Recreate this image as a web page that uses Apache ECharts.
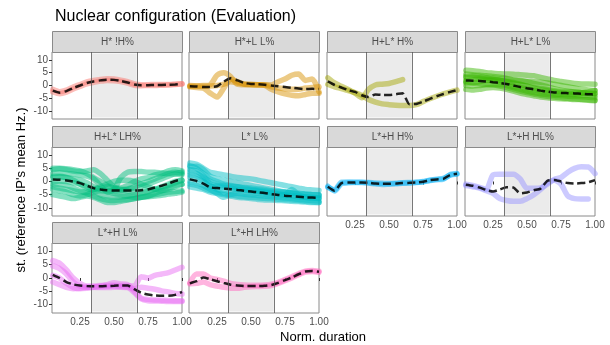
<!DOCTYPE html>
<html>
<head>
<meta charset="utf-8">
<script src="https://cdn.jsdelivr.net/npm/echarts@6/dist/echarts.min.js"></script>
<style>
  html, body { margin: 0; padding: 0; background: #fff; }
  #chart { width: 610px; height: 345px; }
</style>
</head>
<body>
<div id="chart"></div>
<script>
// normalised time points shared by every contour
const X = [0.05,0.1,0.15,0.2,0.25,0.3,0.35,0.4,0.45,0.5,0.55,0.6,0.65,0.7,0.75,0.8,0.85,0.9,0.95,1.0];

const facetNames = ['H* !H%', 'H*+L L%', 'H+L* H%', 'H+L* L%', 'H+L* LH%', 'L* L%', 'L*+H H%', 'L*+H HL%', 'L*+H L%', 'L*+H LH%'];
const facetColors = ['#F8766D', '#D89000', '#A3A500', '#39B600', '#00BF7D', '#00BFC4', '#00B0F6', '#9590FF', '#E76BF3', '#FF62BC'];

const xTicks = [0.25, 0.5, 0.75, 1.0];
const yTicks = [-10, -5, 0, 5, 10];

// H* !H%
const p1Mean = [-2,-2.8,-2.2,-1,0,1,1.6,2,2.3,2.2,1.8,1.2,0.4,0.1,0.1,0.2,0.2,0.3,0.4,0.6];
const p1Lines = [
  [-1.5,-2.4,-1.8,-0.6,0.4,1.4,2.0,2.4,2.6,2.5,2.1,1.5,0.6,0.3,0.3,0.4,0.4,0.4,0.5,0.6],
  [-2.5,-3.2,-2.6,-1.4,-0.4,0.6,1.2,1.7,2.0,1.9,1.5,0.9,0.1,-0.1,0,0,0.1,0.2,0.4,0.7]
];
// H*+L L%
const p2Mean = [-0.3,-0.4,-0.6,-0.6,-0.3,1.5,2.8,2.0,1.0,0.6,0.5,0.3,0,-0.3,-0.6,-0.9,-1.2,-1.4,-1.3,-1.4];
const p2Lines = [
  [-0.3,-0.2,0,0.3,4.0,5.0,3.5,0.5,0.3,0.3,0.3,0.3,0.2,1.5,2.5,4.0,4.5,2.0,2.5,-2.5],
  [-0.5,-0.8,-1.0,-3.0,-4.5,-1.0,2.5,1.5,0.6,0.5,0.3,0,-1.5,-2.5,-3.3,-3.8,-4.0,-3.5,-3.0,-3.0],
  [0,-0.2,-0.3,-0.2,0,0.5,1.5,1.0,0.5,0.3,0.2,0.2,-0.5,-1.0,-1.3,-1.5,-1.5,-1.0,-0.8,-0.5]
];
// H+L* H%
const p3Mean = [1.6,0.2,-0.8,-1.8,-2.5,-3.8,-4.5,-3.5,-3.7,-3.7,-3.4,-3.0,-7.3,-7.2,-6.3,-5.2,-4.2,-3.3,-2.5,-1.8];
const p3Lines = [
  [3.0,1.0,-0.3,-1.5,-3.0,-4.8,-1.5,0.2,0.5,0.8,1.5,2.3,null,null,null,null,null,null,null,null],
  [0.5,-0.5,-1.2,-2.0,-2.8,-3.8,-5.5,-6.5,-7.2,-7.5,-7.7,-7.8,-7.8,-7.5,-6.3,-5.2,-4.2,-3.3,-2.5,-1.8]
];
// H+L* L%
const p4Mean = [2.0,1.9,1.8,1.6,1.3,1.0,0.6,0,-0.6,-1.1,-1.5,-2.0,-2.4,-2.7,-2.9,-3.0,-3.1,-3.2,-3.4,-3.5];
const p4Lines = [
  [6.0,5.8,5.5,5.0,4.8,4.6,4.5,4.4,4.2,4.0,3.8,3.2,2.6,2.0,1.6,1.2,0.8,0.6,0.6,0.5],
  [4.5,4.2,4.0,3.8,3.5,3.2,2.8,2.2,1.8,1.6,1.5,1.3,1.0,0.5,0,-0.5,-1.0,-1.5,-1.8,-2.0],
  [3.0,3.2,3.0,2.8,2.5,2.0,1.5,0.8,0.2,-0.3,-0.8,-1.2,-1.6,-2.0,-2.3,-2.5,-2.6,-2.8,-3.0,-3.0],
  [2.0,2.2,2.5,2.3,1.8,1.2,0.5,-0.2,-0.8,-1.4,-1.8,-2.3,-2.8,-3.2,-3.4,-3.5,-3.6,-3.7,-3.8,-4.0],
  [1.0,1.2,0.8,0.5,0.5,0.3,0,-0.8,-1.5,-2.2,-2.8,-3.2,-3.5,-3.8,-4.0,-4.2,-4.3,-4.4,-4.6,-4.8],
  [0,-0.2,0,0.3,0.2,-0.2,-0.8,-1.5,-2.2,-2.8,-3.3,-3.8,-4.2,-4.5,-4.8,-5.0,-5.2,-5.5,-5.8,-6.0],
  [-1.5,-1.8,-1.5,-1.0,-0.8,-1.0,-1.5,-2.2,-3.0,-3.5,-4.0,-4.5,-4.8,-5.0,-5.2,-5.3,-5.5,-5.5,-5.6,-5.8],
  [3.5,3.8,3.5,3.0,2.8,2.6,2.5,2.2,2.0,1.5,0.8,0.2,-0.5,-1.2,-1.8,-2.2,-2.5,-2.8,-3.0,-3.2],
  [1.5,1.0,1.5,2.0,2.2,2.0,1.6,1.2,0.5,-0.3,-1.0,-1.6,-2.0,-2.5,-2.8,-3.0,-3.3,-3.0,-2.5,-2.0]
];
// H+L* LH%
const p5Mean = [0.8,0.7,0.4,0,-0.6,-1.6,-2.5,-3.0,-3.3,-3.4,-3.4,-3.4,-3.4,-3.3,-3.0,-2.3,-1.6,-0.8,0.2,0.8];
const p5Lines = [
  [4.5,4.8,4.5,4.0,3.8,4.0,4.5,3.0,0.5,-2.0,-2.5,-1.5,0,1.0,1.5,2.5,3.0,4.0,4.5,4.0],
  [3.0,3.2,3.0,2.8,2.5,2.0,1.0,-1.5,-4.0,-3.0,1.5,3.5,3.8,3.8,3.5,3.5,3.2,3.0,2.8,2.5],
  [1.5,1.8,1.5,1.0,0.5,-0.5,-2.0,-3.0,-3.5,-3.8,-3.5,-3.0,-2.5,-2.0,-1.0,0,1.0,2.0,3.0,3.5],
  [0,0.2,0,-0.5,-1.0,-2.0,-3.5,-5.0,-5.8,-6.0,-5.8,-5.5,-5.0,-4.5,-3.8,-3.0,-2.0,-1.0,0,0.5],
  [-1.0,-1.2,-1.5,-2.5,-3.5,-4.5,-5.5,-6.5,-7.0,-7.2,-7.0,-6.8,-6.5,-6.0,-5.5,-5.0,-4.5,-4.0,-3.8,-3.5],
  [-3.0,-3.5,-4.0,-5.0,-5.5,-5.0,-4.0,-3.5,-3.8,-4.5,-5.0,-5.5,-6.0,-6.0,-5.8,-5.5,-5.2,-4.8,-4.5,-4.0],
  [2.0,2.0,1.5,0.5,-1.0,-2.5,-3.0,-2.5,-2.0,-2.5,-3.0,-3.5,-4.0,-4.0,-3.5,-3.0,-2.5,-1.5,-0.5,0.5],
  [-2.0,-2.5,-3.0,-3.5,-4.0,-4.0,-3.0,-2.0,-1.0,0,0.5,0.5,0,-1.0,-2.0,-3.0,-3.5,-3.0,-2.0,-1.0],
  [5.0,5.0,4.8,4.5,4.0,3.0,1.5,0,-1.5,-2.5,-3.0,-2.8,-2.0,-1.0,0,1.0,2.0,3.0,3.5,3.0],
  [-5.0,-5.5,-6.0,-6.5,-6.0,-5.5,-6.0,-7.0,-8.0,-8.0,-7.5,-7.0,-6.5,-6.0,-5.5,-4.5,-3.5,-2.5,-1.5,-1.0]
];
// L* L%
const p6Mean = [0.8,0.2,-0.8,-2.2,-2.5,-2.7,-2.9,-3.2,-3.5,-3.8,-4.1,-4.4,-4.8,-5.1,-5.4,-5.6,-5.8,-6.0,-6.1,-6.2];
const p6Lines = [
  [7.0,6.5,5.0,3.5,3.0,2.5,2.0,1.5,1.2,1.0,0.5,0,-0.5,-1.0,-1.5,-2.0,-2.5,-3.0,-3.2,-3.4],
  [5.5,5.8,4.5,2.0,1.0,0.5,0,-0.5,-1.0,-1.5,-2.0,-2.5,-3.0,-3.5,-4.0,-4.5,-4.8,-5.0,-5.2,-5.3],
  [3.5,3.0,1.5,0,-1.0,-1.5,-2.0,-2.5,-3.0,-3.3,-3.6,-4.0,-4.3,-4.6,-5.0,-5.3,-5.6,-5.8,-6.0,-6.2],
  [1.5,1.0,0,-1.5,-3.0,-3.5,-3.5,-3.8,-4.0,-4.3,-4.5,-4.8,-5.0,-5.3,-5.0,-3.0,-5.0,-6.0,-6.2,-6.4],
  [0,-0.5,-1.5,-3.0,-4.5,-6.0,-5.0,-4.5,-4.8,-5.0,-5.3,-5.5,-5.8,-6.0,-6.3,-6.5,-6.8,-7.0,-7.2,-7.4],
  [-1.0,-1.5,-2.5,-3.5,-4.0,-4.5,-5.0,-5.5,-5.8,-6.0,-6.2,-6.4,-6.5,-6.7,-6.9,-7.0,-7.2,-7.5,-7.8,-8.0],
  [2.5,2.0,0.5,-2.0,-2.0,-2.2,-2.5,-3.0,-3.2,-3.5,-3.8,-4.2,-4.5,-4.8,-5.2,-5.5,-5.8,-6.0,-6.3,-6.5],
  [4.5,4.0,2.0,-1.0,-1.5,-1.5,-1.8,-2.0,-2.3,-2.5,-2.8,-3.0,-3.5,-3.8,-4.0,-4.3,-4.5,-4.8,-5.0,-5.2],
  [-2.0,-2.5,-3.0,-4.0,-4.5,-5.0,-5.5,-6.0,-6.2,-6.5,-6.8,-7.0,-7.0,-7.2,-7.3,-7.5,-7.6,-7.8,-8.0,-8.0],
  [6.0,5.0,3.0,1.0,0,-1.0,-1.5,-2.0,-2.5,-3.0,-3.2,-3.5,-3.8,-4.0,-4.2,-4.4,-4.6,-4.8,-5.0,-5.0]
];
// L*+H H%
const p7Mean = [-2.0,-3.5,-0.6,-0.4,-0.4,-0.4,-0.5,-0.8,-0.9,-0.9,-0.8,-0.6,-0.5,-0.4,-0.1,0.5,0.8,1.0,2.5,2.9];
const p7Lines = [
  [-2.2,-3.2,-0.3,-0.2,-0.3,-0.4,-0.6,-0.9,-1.1,-1.0,-0.9,-0.7,-0.6,-0.4,0,0.5,0.9,1.2,2.4,2.8],
  [-1.8,-3.6,-0.8,-0.5,-0.4,-0.3,-0.4,-0.6,-0.7,-0.8,-0.7,-0.5,-0.4,-0.3,-0.2,0.4,0.7,0.9,2.6,3.0]
];
// L*+H HL%
const p8Mean = [-1.2,-1.6,-2.3,-3.2,-3.8,-3.0,-2.2,-2.3,-4.5,-4.2,-3.3,-2.7,0.3,0.6,0,-0.6,-0.8,-0.6,-0.3,0.5];
const p8Lines = [
  [-1.0,-1.5,-2.2,-3.0,2.5,2.8,2.8,2.8,1.0,-2.6,-2.6,-2.5,-1.0,0.8,1.5,3.5,5.0,5.6,5.5,3.0],
  [-1.5,-2.0,-2.5,-3.5,-4.5,-6.5,-7.2,-7.5,-7.5,-6.5,-5.0,-3.0,-0.5,0.5,-1.0,-5.5,-6.5,-6.6,-6.6,null]
];
// L*+H L%
const p9Mean = [1.2,0,-1.5,-2.4,-2.8,-3.0,-3.1,-3.1,-3.0,-2.9,-2.8,-2.8,-4.2,-5.5,-6.2,-6.5,-6.6,-6.6,-6.3,-5.2];
const p9Lines = [
  [6.5,5.5,3.0,0,-2.0,-3.0,-3.0,-2.8,-2.8,-2.7,-2.8,-2.9,-3.0,0.5,0,1.0,1.5,2.0,3.0,4.0],
  [4.5,3.5,1.5,-1.5,-3.0,-3.5,-3.4,-3.3,-3.2,-3.0,-3.2,-3.5,-4.0,-3.5,-3.8,-4.2,-4.8,-5.2,-5.8,-6.0],
  [1.0,0,-2.0,-3.5,-4.0,-3.8,-3.5,-3.0,-2.5,-1.8,-2.2,-2.5,-5.0,-7.5,-8.0,-8.2,-8.3,-8.4,-8.5,-8.5],
  [-1.5,-2.5,-3.5,-4.0,-3.8,-3.5,-3.5,-3.6,-3.6,-3.5,-3.5,-3.6,-5.5,-7.8,-8.5,-8.6,-8.7,-8.8,-8.8,-8.8]
];
// L*+H LH%
const p10Mean = [-2.0,-1.2,0.2,-0.5,-1.2,-1.9,-2.5,-2.8,-3.0,-3.0,-3.0,-2.9,-2.6,-1.8,-0.8,0.2,1.4,2.4,2.6,2.3];
const p10Lines = [
  [-1.8,1.5,1.5,0,-0.5,-1.2,-2.0,-2.4,-2.6,-2.7,-2.7,-2.6,-2.3,-1.6,-0.6,0.5,1.6,2.6,2.8,2.5],
  [-2.2,-2.0,-1.5,-2.5,-3.0,-3.5,-3.8,-3.8,-3.5,-3.3,-3.2,-3.1,-2.8,-2.0,-1.0,0,1.2,2.2,2.4,2.1]
];

const facetMeans = [p1Mean, p2Mean, p3Mean, p4Mean, p5Mean, p6Mean, p7Mean, p8Mean, p9Mean, p10Mean];
const facetLines = [p1Lines, p2Lines, p3Lines, p4Lines, p5Lines, p6Lines, p7Lines, p8Lines, p9Lines, p10Lines];

// panel layout (px)
const colLeft = [52, 189, 327, 465];
const rowTop = [52, 147, 243];
const rowHeight = [67, 69, 70];
const panelW = 130;
const stripH = 21;

const withX = ys => X.map((x, i) => [x, ys[i]]);

let chart = echarts.init(document.getElementById('chart'), null, {renderer: 'canvas'});

let grids = [], xAxes = [], yAxes = [], series = [], graphics = [];
facetNames.forEach(function (name, k) {
  let r = Math.floor(k / 4), c = k % 4;
  let left = colLeft[c], top = rowTop[r], h = rowHeight[r];
  let showX = k >= 6;
  let showY = c === 0;
  grids.push({left: left, top: top, width: panelW, height: h, show: true,
    borderColor: '#8a8a8a', borderWidth: 1, backgroundColor: '#fff'});
  xAxes.push({
    type: 'value', gridIndex: k, min: 0.044, max: 1.0,
    axisLine: {show: false}, splitLine: {show: false},
    axisTick: {show: showX, length: 3, lineStyle: {color: '#333'}, customValues: xTicks},
    axisLabel: {show: showX, customValues: xTicks, color: '#4d4d4d', fontSize: 10,
      fontFamily: 'Liberation Sans', margin: 4, formatter: v => v.toFixed(2)}
  });
  yAxes.push({
    type: 'value', gridIndex: k, min: -13.1, max: 13.1,
    axisLine: {show: false}, splitLine: {show: false},
    axisTick: {show: showY, length: 3, lineStyle: {color: '#333'}, customValues: yTicks},
    axisLabel: {show: showY, customValues: yTicks, color: '#4d4d4d', fontSize: 10,
      fontFamily: 'Liberation Sans', margin: 4}
  });
  // shaded middle third + boundaries
  series.push({
    type: 'line', xAxisIndex: k, yAxisIndex: k, data: [], z: 1, silent: true,
    markArea: {silent: true, itemStyle: {color: '#ebebeb'},
      data: [[{coord: [0.333, -12.5]}, {coord: [0.667, 12.5]}]]},
    markLine: {silent: true, symbol: 'none', label: {show: false},
      lineStyle: {color: '#555', width: 0.8, type: 'solid'},
      data: [{xAxis: 0.333}, {xAxis: 0.667}]}
  });
  facetLines[k].forEach(function (ys) {
    series.push({
      type: 'line', xAxisIndex: k, yAxisIndex: k, data: withX(ys), z: 2,
      showSymbol: false, smooth: 0.25, silent: true,
      lineStyle: {color: facetColors[k], width: 5.5, opacity: 0.48, cap: 'round', join: 'round'}
    });
  });
  series.push({
    type: 'line', xAxisIndex: k, yAxisIndex: k, data: withX(facetMeans[k]), z: 3,
    showSymbol: false, smooth: 0.2, silent: true,
    lineStyle: {color: '#000', width: 2.5, opacity: 0.85, type: [8, 4]}
  });
  // facet strip
  graphics.push({
    type: 'group', left: left, top: top - stripH,
    children: [
      {type: 'rect', shape: {x: 0, y: 0, width: panelW, height: stripH},
        style: {fill: '#d9d9d9', stroke: '#8a8a8a', lineWidth: 1}},
      {type: 'text', x: panelW / 2, y: stripH / 2,
        style: {text: name, fill: '#4d4d4d', font: '10px "Liberation Sans"', align: 'center', verticalAlign: 'middle'}}
    ]
  });
});

// y axis title, rotated
graphics.push({
  type: 'text', x: 21, y: 190, rotation: Math.PI / 2,
  style: {text: "st. (reference IP's mean Hz.)", fill: '#000', font: '13px "Liberation Sans"',
    align: 'center', verticalAlign: 'middle'}
});
graphics.push({
  type: 'text', x: 323, y: 337,
  style: {text: 'Norm. duration', fill: '#000', font: '13px "Liberation Sans"',
    align: 'center', verticalAlign: 'middle'}
});

let option = {
  animation: false,
  backgroundColor: '#fff',
  title: {text: 'Nuclear configuration (Evaluation)', left: 50, top: 4,
    textStyle: {fontSize: 16, fontWeight: 'normal', color: '#000', fontFamily: 'Liberation Sans'}},
  grid: grids,
  xAxis: xAxes,
  yAxis: yAxes,
  graphic: graphics,
  series: series
};
chart.setOption(option);
</script>
</body>
</html>
